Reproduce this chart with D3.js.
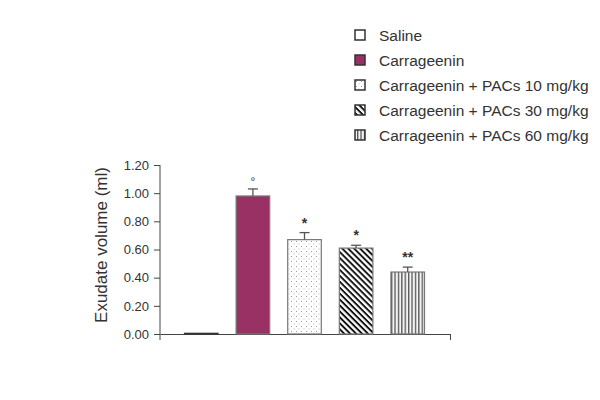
<!DOCTYPE html>
<html><head><meta charset="utf-8">
<script src="https://cdn.jsdelivr.net/npm/d3@7"></script>
<style>body{margin:0;background:#fff}svg{display:block}text{font-family:"Liberation Sans",Arial,sans-serif;fill:#333}</style>
</head><body><svg id="c" width="600" height="400"></svg>
<script>
const categories = ["Saline","Carrageenin","Carrageenin + PACs 10 mg/kg","Carrageenin + PACs 30 mg/kg","Carrageenin + PACs 60 mg/kg"];
const means = [0.005, 0.98, 0.67, 0.61, 0.44];
const errors = [0, 0.05, 0.05, 0.02, 0.035];
const marks = ["", "°", "*", "*", "**"];
const yTicks = [0, 0.2, 0.4, 0.6, 0.8, 1.0, 1.2];
const yTitle = "Exudate volume (ml)";

const svg = d3.select("#c");
const defs = svg.append("defs");
// patterns
const pDots = defs.append("pattern").attr("id","dots").attr("patternUnits","userSpaceOnUse").attr("width",5).attr("height",5);
pDots.append("rect").attr("width",5).attr("height",5).attr("fill","#fff");
pDots.append("rect").attr("x",1).attr("y",1).attr("width",1).attr("height",1).attr("fill","#999");
pDots.append("rect").attr("x",3.5).attr("y",3.5).attr("width",1).attr("height",1).attr("fill","#bbb");
const pDiag = defs.append("pattern").attr("id","diag").attr("patternUnits","userSpaceOnUse").attr("width",4.2).attr("height",4.2).attr("patternTransform","rotate(45)");
pDiag.append("rect").attr("width",4.2).attr("height",4.2).attr("fill","#fff");
pDiag.append("rect").attr("width",4.2).attr("height",1.9).attr("fill","#111");
const pVert = defs.append("pattern").attr("id","vert").attr("patternUnits","userSpaceOnUse").attr("width",3.4).attr("height",4);
pVert.append("rect").attr("width",3.4).attr("height",4).attr("fill","#f4f4f4");
pVert.append("rect").attr("width",1.3).attr("height",4).attr("fill","#555");
const fills = ["#ffffff","#9a3164","url(#dots)","url(#diag)","url(#vert)"];

const y = d3.scaleLinear().domain([0,1.2]).range([334,165]);
const x = d3.scaleBand().domain(categories).range([184,425]).paddingInner(0.33).paddingOuter(0);
const xLine = d3.scaleLinear().domain([0,1]).range([160,450]);

// axes
const gy = svg.append("g").attr("transform","translate(160,0)")
  .call(d3.axisLeft(y).tickValues(yTicks).tickFormat(d3.format(".2f")).tickSize(6).tickPadding(5));
gy.select(".domain").attr("d","M0,165V340").attr("stroke","#444");
gy.selectAll(".tick line").attr("stroke","#444");
gy.selectAll(".tick text").style("font-size","13px").attr("fill","#333");

const gx = svg.append("g").attr("transform","translate(0,334)")
  .call(d3.axisBottom(xLine).tickValues([1]).tickFormat("").tickSize(6).tickSizeOuter(0));
gx.select(".domain").attr("stroke","#444");
gx.selectAll(".tick line").attr("stroke","#444");

svg.append("text").attr("transform","translate(107,245) rotate(-90)").attr("text-anchor","middle")
  .style("font-size","17px").text(yTitle);

// bars
const bars = svg.append("g");
categories.forEach((c,i)=>{
  const bx = x(c), bw = x.bandwidth();
  bars.append("rect").attr("x",bx+0.5).attr("y",y(means[i])).attr("width",bw-1).attr("height",y(0)-y(means[i]))
    .attr("fill",fills[i]).attr("stroke", i===0 ? "#333" : "#777").attr("stroke-width",1.2);
  if (errors[i]>0){
    const cx = bx + bw/2;
    bars.append("line").attr("x1",cx).attr("x2",cx).attr("y1",y(means[i])).attr("y2",y(means[i]+errors[i])).attr("stroke","#555").attr("stroke-width",1.3);
    bars.append("line").attr("x1",cx-5).attr("x2",cx+5).attr("y1",y(means[i]+errors[i])).attr("y2",y(means[i]+errors[i])).attr("stroke","#555").attr("stroke-width",1.3);
  }
  if (marks[i]){
    bars.append("text").attr("x",bx+bw/2).attr("y",y(means[i]+errors[i]) - (i===1?3:5)).attr("text-anchor","middle")
      .style("font-size", i===1 ? "12px" : "14px").style("font-weight", i===1?"normal":"bold").text(marks[i]);
  }
});

// legend
const leg = svg.append("g");
categories.forEach((c,i)=>{
  const cy = 35 + i*25;
  leg.append("rect").attr("x",355).attr("y",cy-5).attr("width",10).attr("height",10)
    .attr("fill",fills[i]).attr("stroke","#333").attr("stroke-width",1.5);
  leg.append("text").attr("x",379).attr("y",cy).attr("dy","0.36em").style("font-size","15.5px").text(c);
});
</script></body></html>
